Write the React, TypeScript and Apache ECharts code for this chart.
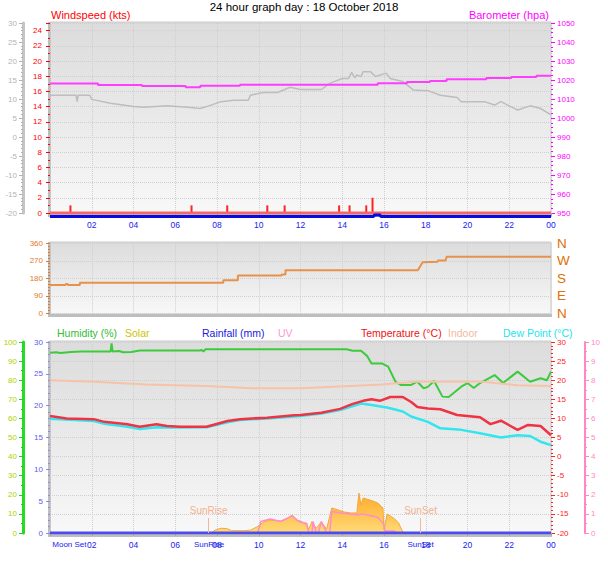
import React, { useEffect, useRef } from 'react';
import * as echarts from 'echarts';

// ---------- data (hours since midnight) ----------
const baroPressure: [number, number][] = [
  [0, 1018.1], [2.3, 1017.4], [4.4, 1016.8], [6.5, 1016.2], [7.2, 1017.0], [9.1, 1017.5],
  [15.7, 1018.3], [17.1, 1019.0], [18.2, 1019.5], [19.0, 1020.4], [20.9, 1021.0],
  [22.1, 1021.6], [23.3, 1022.3], [24, 1022.3],
];
const topGrayTemp: [number, number][] = [
  [0, 11.0], [1.25, 11.0], [1.3, 9.3], [1.35, 11.0], [1.9, 11.0], [2.0, 9.9], [2.9, 8.9],
  [4.0, 8.0], [4.5, 7.8], [5.6, 8.2], [6.6, 7.8], [7.2, 7.5], [7.6, 8.2], [8.2, 9.3],
  [8.8, 9.7], [9.5, 9.7], [9.6, 11.0], [10.2, 11.7], [10.9, 11.7], [11.5, 13.1],
  [12.0, 12.5], [13.0, 12.5], [13.4, 14.1], [14.0, 15.4], [14.3, 15.4], [14.45, 17.0],
  [14.6, 15.6], [14.7, 16.3], [14.9, 15.9], [15.0, 17.2], [15.35, 17.2], [15.6, 15.9],
  [16.1, 16.8], [16.3, 15.4], [16.9, 14.6], [17.4, 12.4], [18.1, 12.2], [18.7, 11.0],
  [19.5, 10.4], [19.7, 9.3], [20.8, 9.3], [21.3, 8.4], [21.6, 9.3], [22.4, 7.1],
  [23.0, 8.2], [23.5, 7.5], [24, 5.8],
];
const windAverage: [number, number][] = [[0, 0], [24, 0]];
const windGusts: [number, number][] = [
  [0.98, 1], [6.78, 1], [8.49, 1], [10.41, 1], [11.24, 1], [13.85, 1], [14.35, 1], [15.15, 1], [15.45, 2],
];
const rainRateTop: [number, number][] = [
  [0, -0.46], [15.5, -0.46], [15.55, -0.25], [15.8, -0.25], [15.85, -0.46], [24, -0.46],
];
const windDirection: [number, number][] = [
  [0, 146], [0.75, 146], [0.75, 151], [0.85, 151], [0.85, 146], [1.43, 146], [1.43, 157],
  [8.3, 157], [8.3, 170], [9.0, 170], [9.0, 194], [11.1, 194], [11.1, 199], [11.28, 199],
  [11.28, 221], [17.62, 221], [17.85, 263], [18.55, 265], [18.6, 272], [18.95, 272],
  [19.0, 291], [24, 291],
];
const humidity: [number, number][] = [
  [0, 94.4], [0.3, 94.6], [0.5, 94.2], [1.0, 94.8], [1.5, 95.0], [2.9, 95.0], [2.95, 99.3],
  [3.0, 95.0], [3.3, 95.3], [3.5, 94.6], [3.9, 94.8], [4.3, 95.5], [7.2, 95.5], [7.25, 96.0],
  [7.35, 95.0], [7.45, 96.2], [14.2, 96.2], [14.5, 95.4], [14.9, 95.4], [15.2, 92.6],
  [15.4, 88.8], [15.9, 88.8], [16.2, 87.1], [16.55, 79.2], [16.8, 77.5], [17.3, 77.5],
  [17.6, 79.2], [17.9, 75.8], [18.1, 76.5], [18.4, 79.6], [18.8, 71.4], [19.1, 71.2],
  [19.7, 76.6], [20.0, 78.5], [20.3, 75.9], [20.6, 78.5], [21.3, 82.7], [21.7, 78.5],
  [22.4, 84.5], [23.0, 79.2], [23.5, 81.0], [23.8, 80.0], [24, 84.5],
];
const temperature: [number, number][] = [
  [0, 10.6], [0.8, 10.0], [2.1, 9.8], [2.6, 9.1], [3.7, 8.45], [4.3, 7.8], [5.1, 8.45],
  [5.6, 8.0], [6.25, 7.8], [7.5, 7.8], [8.5, 9.3], [9.1, 9.8], [10.4, 10.2], [11.7, 10.8],
  [12.0, 10.9], [13.0, 11.5], [13.9, 12.5], [14.5, 13.8], [15.0, 14.6], [15.4, 15.0],
  [15.8, 14.6], [16.3, 15.6], [16.9, 15.6], [17.3, 14.3], [17.6, 13.0], [18.1, 12.6],
  [18.7, 12.4], [19.5, 10.9], [20.6, 10.3], [21.1, 8.5], [21.6, 9.4], [22.4, 7.0],
  [22.9, 8.3], [23.5, 8.0], [24, 5.6],
];
const dewPoint: [number, number][] = [
  [0, 9.9], [2.1, 9.3], [2.6, 8.6], [3.7, 7.8], [4.3, 7.2], [5.1, 7.7], [6.25, 7.6],
  [7.5, 7.7], [8.5, 9.0], [9.1, 9.6], [10.4, 10.0], [11.7, 10.5], [12.0, 10.6], [13.0, 11.3],
  [13.9, 12.2], [14.9, 13.9], [15.4, 13.5], [16.2, 12.8], [16.9, 11.8], [17.3, 10.5],
  [18.1, 9.1], [18.7, 7.4], [19.7, 7.0], [20.6, 6.1], [21.6, 5.0], [22.4, 5.6], [23.0, 5.4],
  [23.5, 3.9], [24, 3.0],
];
const indoorTemp: [number, number][] = [
  [0, 20.0], [2.1, 19.6], [4.6, 18.9], [7.5, 18.5], [9.7, 17.9], [12.0, 17.9], [13.6, 18.3],
  [15.9, 18.9], [17.5, 19.6], [20.7, 19.6], [22.4, 18.7], [24, 18.5],
];
const rainfall: [number, number][] = [[0, 0], [24, 0]];
const solar: [number, number][] = [
  [7.75, 0], [7.9, 15], [8.2, 25], [8.5, 22], [8.7, 12], [9.3, 12], [9.6, 15], [9.9, 31],
  [10.25, 58], [10.55, 68], [11.05, 63], [11.35, 75], [11.6, 94], [11.85, 68], [12.2, 52],
  [12.4, 20], [12.55, 60], [12.75, 25], [13.0, 58], [13.25, 20], [13.5, 131], [14.1, 110],
  [14.4, 105], [14.7, 105], [14.8, 209], [14.9, 147], [15.0, 183], [15.4, 170], [15.7, 157],
  [15.95, 131], [16.0, 16], [16.15, 99], [16.5, 75], [16.7, 52], [16.9, 5], [17.0, 0],
];
const uvIndex: [number, number][] = [
  [0, 0], [9.95, 0], [10.1, 0.6], [10.55, 0.73], [11.05, 0.6], [11.6, 0.9], [11.9, 0.6],
  [12.3, 0.5], [12.4, 0], [12.55, 0], [12.6, 0.6], [12.75, 0], [12.85, 0], [13.0, 0.6],
  [13.25, 0], [13.4, 0], [13.5, 1.12], [13.9, 1.05], [14.7, 0.95], [15.0, 1.0], [15.7, 0.82],
  [16.0, 0.45], [16.05, 0.1], [16.5, 0.1], [16.6, 0], [24, 0],
];
const axisEventNames = ['Moon Set', 'SunRise', 'SunSet'];
const axisEventTimes = [0.93, 7.62, 17.75];
const sunEventNames = ['SunRise', 'SunSet'];
const sunEventTimes = [7.6, 17.75];
const moonEventNames = ['Moon Set', 'MoonRise'];
const moonEventTimes = [0.93, 16.3];
const compassLabels = ['N', 'E', 'S', 'W', 'N'];

const FONT = '"Liberation Sans", Arial, sans-serif';
const GRID_LEFT = 50;
const GRID_RIGHT = 57;
const PLOT_W = 501;

const pad2 = (v: number) => {
  if (v === 0) return '';
  const h = Math.round(v) % 24;
  return h < 10 ? '0' + h : String(h);
};

function panelFrame(top: number, bottom: number) {
  return [
    {
      type: 'rect', z: -10, silent: true,
      shape: { x: GRID_LEFT, y: top, width: PLOT_W, height: bottom - top },
      style: {
        fill: new echarts.graphic.LinearGradient(0, 0, 0, 1, [
          { offset: 0, color: '#DCDCDC' }, { offset: 0.45, color: '#E8E8E8' }, { offset: 1, color: '#F8F8F8' },
        ]),
        stroke: '#CACACA', lineWidth: 1,
      },
    },
    { type: 'rect', z: -9, silent: true, shape: { x: GRID_LEFT - 2, y: top, width: 3, height: bottom - top + 3 }, style: { fill: '#BEBEBE' } },
    { type: 'rect', z: -9, silent: true, shape: { x: GRID_LEFT - 2, y: bottom, width: PLOT_W + 3, height: 3 }, style: { fill: '#BEBEBE' } },
  ];
}

function title(text: string, x: number, y: number, color: string, align: string = 'left', size = 11) {
  return { type: 'text', x, y, style: { text, fill: color, font: `${size}px ${FONT}`, textAlign: align, textVerticalAlign: 'middle' } };
}

const splitDotted = { show: true, lineStyle: { color: '#CFCFCF', type: 'dotted', width: 1 } };
const noSplit = { show: false };

function hourAxis(gridIndex: number, showLabels: boolean) {
  return {
    type: 'value', gridIndex, min: 0, max: 24, interval: 2,
    axisLine: { show: false, onZero: false },
    axisTick: { show: showLabels, length: 3, lineStyle: { color: '#A8A8A8' } },
    minorTick: { show: showLabels, splitNumber: 4, length: 2, lineStyle: { color: '#B8B8B8' } },
    splitLine: splitDotted,
    axisLabel: { show: showLabels, margin: 7, color: '#2222EE', fontSize: 8.5, fontFamily: FONT, formatter: pad2 },
  };
}

function valAxis(o: any) {
  const color = o.color;
  return {
    type: 'value', gridIndex: o.grid, position: o.pos, offset: o.offset || 0,
    min: o.min, max: o.max, interval: o.interval,
    axisLine: { show: !!o.lineW, onZero: false, lineStyle: { color: o.lineColor || color, width: o.lineW || 1 } },
    axisTick: { show: true, length: 4, lineStyle: { color: o.tickColor || color } },
    minorTick: { show: true, splitNumber: o.minor || 5, length: 2, lineStyle: { color: o.tickColor || color } },
    splitLine: o.split ? splitDotted : noSplit,
    axisLabel: {
      color: o.labelColor || color, fontSize: o.fontSize || 8, fontFamily: FONT, margin: o.margin || 6,
      formatter: o.formatter || ((v: number) => String(v)),
    },
  };
}

export default function App() {
  const ref = useRef<HTMLDivElement>(null);
  useEffect(() => {
    if (!ref.current) return;
    const chart = echarts.init(ref.current, null, { renderer: 'svg' });
    const line = (name: string, x: number, y: number, data: any, color: string, width: number, extra: any = {}) => ({
      type: 'line', name, xAxisIndex: x, yAxisIndex: y, data, symbol: 'none', showSymbol: false,
      lineStyle: { color, width }, itemStyle: { color }, ...extra,
    });

    const option: any = {
      animation: false,
      backgroundColor: '#FFFFFF',
      textStyle: { fontFamily: FONT },
      grid: [
        { left: GRID_LEFT, right: GRID_RIGHT, top: 23, height: 190 },
        { left: GRID_LEFT, right: GRID_RIGHT, top: 243.3, height: 70 },
        { left: GRID_LEFT, right: GRID_RIGHT, top: 342, height: 191 },
      ],
      xAxis: [
        hourAxis(0, true),
        hourAxis(1, false),
        hourAxis(2, true),
        {
          type: 'value', gridIndex: 2, min: 0, max: 24, position: 'bottom',
          axisLine: { show: false, onZero: false }, axisTick: { show: false }, splitLine: { show: false },
          axisLabel: {
            customValues: axisEventTimes, margin: 7, color: '#2222EE', fontSize: 8, fontFamily: FONT,
            formatter: (v: number) => {
              const i = axisEventTimes.findIndex((t) => Math.abs(t - v) < 0.01);
              return i >= 0 ? axisEventNames[i] : '';
            },
          },
        },
      ],
      yAxis: [
        valAxis({ grid: 0, pos: 'left', min: 0, max: 25, interval: 2, color: '#FF0000', minor: 2, split: true, margin: 8,
          formatter: (v: number) => (v > 24 ? '' : String(v)) }),
        valAxis({ grid: 0, pos: 'left', offset: 27, min: -20, max: 30, interval: 5, color: '#B4B4B4', lineW: 3, lineColor: '#C4C4C4' }),
        valAxis({ grid: 0, pos: 'right', min: 950, max: 1050, interval: 10, color: '#FF00FF', minor: 4 }),
        valAxis({ grid: 1, pos: 'left', min: 0, max: 360, interval: 90, color: '#E07A2A', minor: 6, split: true, margin: 7 }),
        {
          type: 'value', gridIndex: 1, position: 'right', min: 0, max: 360, interval: 90,
          axisLine: { show: false, onZero: false }, axisTick: { show: false }, splitLine: { show: false },
          axisLabel: { color: '#E07000', fontSize: 13.5, fontFamily: FONT, margin: 6, formatter: (v: number) => compassLabels[Math.round(v / 90)] },
        },
        valAxis({ grid: 2, pos: 'left', offset: 27, min: 0, max: 100, interval: 10, color: '#22CC22', labelColor: '#A8D400', lineW: 3, lineColor: '#22DD22', minor: 2 }),
        valAxis({ grid: 2, pos: 'left', min: 0, max: 30, interval: 5, color: '#8A8AF4', labelColor: '#5A5AEE', minor: 5, margin: 7 }),
        valAxis({ grid: 2, pos: 'right', min: -20, max: 30, interval: 5, color: '#FF2222', minor: 5, split: true }),
        valAxis({ grid: 2, pos: 'right', offset: 34, min: 0, max: 10, interval: 1, color: '#FF88C4', lineW: 2, minor: 2 }),
        { type: 'value', gridIndex: 2, min: 0, max: 1000, show: false, axisLine: { onZero: false }, splitLine: { show: false } },
      ],
      series: [
        line('Temperature (top)', 0, 1, topGrayTemp, '#BDBDBD', 1.5),
        line('Barometer', 0, 2, baroPressure, '#FF3CFF', 2, { step: 'end' }),
        line('Windspeed', 0, 0, windAverage, '#F46868', 3),
        { type: 'bar', name: 'Gust', xAxisIndex: 0, yAxisIndex: 0, data: windGusts, barWidth: 2, itemStyle: { color: '#FF2222' } },
        line('Rain rate', 0, 0, rainRateTop, '#0A0AE0', 3, { clip: false }),
        line('Wind direction', 1, 3, windDirection, '#E8914A', 2),
        line('Solar', 2, 9, solar, '#F2A838', 1, {
          areaStyle: {
            opacity: 1,
            color: new echarts.graphic.LinearGradient(0, 0, 0, 1, [
              { offset: 0, color: '#FFAA28' }, { offset: 1, color: '#FFDA78' },
            ]),
          },
        }),
        line('UV', 2, 8, uvIndex, '#FF8CCB', 1.5),
        line('Rainfall', 2, 6, rainfall, '#4B4BF0', 3, {
          markLine: {
            silent: true, symbol: 'none',
            lineStyle: { color: '#F4B898', type: 'solid', width: 1 },
            label: { show: true, position: 'end', distance: 2, formatter: '{b}', color: '#F4B090', fontSize: 10, fontFamily: FONT },
            data: sunEventTimes.map((t, i) => [
              { name: sunEventNames[i], coord: [t, 0] },
              { coord: [t, 2.36] },
            ]),
          },
          markPoint: {
            silent: true, symbol: 'circle', symbolSize: 1, itemStyle: { opacity: 0 },
            label: { show: true, position: 'inside', formatter: '{b}', color: 'rgba(240,170,140,0.55)', fontSize: 10, fontFamily: FONT },
            data: moonEventTimes.map((t, i) => ({ name: moonEventNames[i], coord: [t, 0.15] })),
          },
        }),
        line('Humidity', 2, 5, humidity, '#3CCB3C', 2),
        line('Indoor', 2, 7, indoorTemp, '#F7C2A8', 2),
        line('Dew Point', 2, 7, dewPoint, '#33E6EE', 2.5),
        line('Temperature', 2, 7, temperature, '#EE3344', 2.5),
      ],
      graphic: [
        ...panelFrame(22, 214),
        ...panelFrame(242, 314),
        ...panelFrame(341, 534),
        title('24 hour graph day : 18 October 2018', 304, 7, '#000000', 'center', 11.5),
        title('Windspeed (kts)', 51, 15, '#FF0000', 'left', 11),
        title('Barometer (hpa)', 549, 15, '#FF00FF', 'right', 11),
        title('Humidity (%)', 57, 333, '#33BB33', 'left', 10.5),
        title('Solar', 125, 333, '#CCC400', 'left', 10.5),
        title('Rainfall (mm)', 202, 333, '#2020DD', 'left', 10.5),
        title('UV', 278, 333, '#FF99CC', 'left', 10.5),
        title('Temperature (°C)', 361, 333, '#EE1111', 'left', 10.5),
        title('Indoor', 448, 333, '#F5B8A0', 'left', 10.5),
        title('Dew Point (°C)', 503, 333, '#22E4EE', 'left', 10.5),
      ],
    };
    chart.setOption(option);
    return () => chart.dispose();
  }, []);
  return <div ref={ref} style={{ width: 608, height: 561, position: 'absolute', left: 0, top: 0 }} />;
}
